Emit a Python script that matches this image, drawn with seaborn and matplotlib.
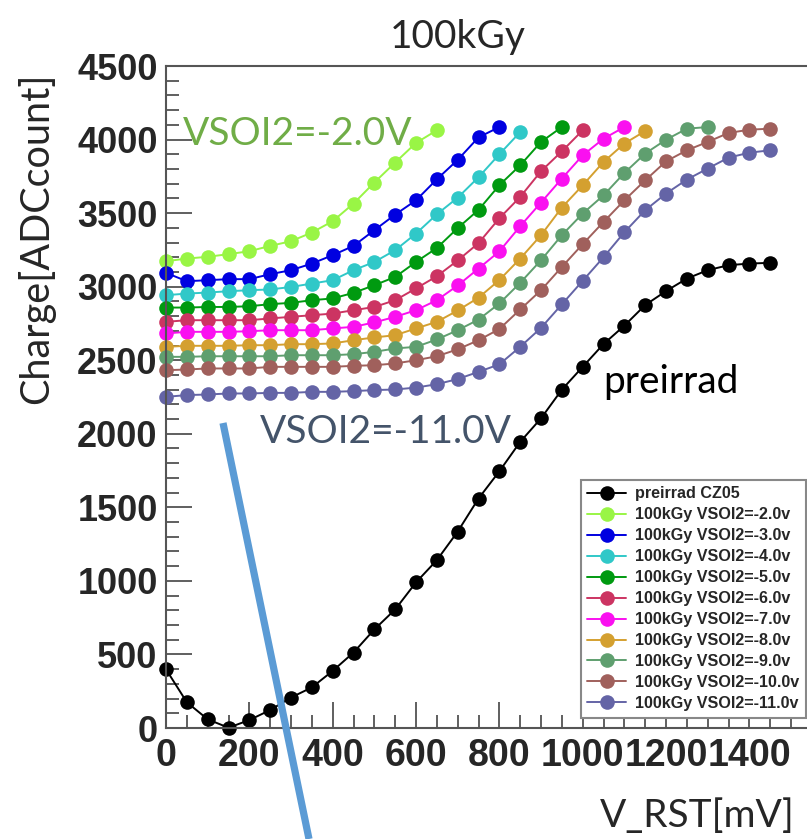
import matplotlib
matplotlib.use("Agg")
import matplotlib.pyplot as plt
from matplotlib.lines import Line2D
from matplotlib.ticker import MultipleLocator
import pandas as pd
import seaborn as sns

# Reset voltage scan points [mV]
vrst = [0, 50, 100, 150, 200, 250, 300, 350, 400, 450,
        500, 550, 600, 650, 700, 750, 800, 850, 900, 950,
        1000, 1050, 1100, 1150, 1200, 1250, 1300, 1350, 1400, 1450]

# Collected charge [ADC count] per configuration
preirrad = [399, 175, 59, 2, 54, 122, 207, 276, 388, 513,
            670, 806, 990, 1141, 1335, 1560, 1745, 1945, 2105, 2300,
            2455, 2610, 2735, 2875, 2970, 3055, 3112, 3146, 3157, 3162]
vsoi_2 = [3173, 3191, 3203, 3221, 3241, 3277, 3309, 3368, 3445, 3565,
          3708, 3844, 3977, 4063]
vsoi_3 = [3094, 3037, 3044, 3051, 3051, 3085, 3112, 3157, 3214, 3277,
          3384, 3490, 3587, 3730, 3862, 4015, 4085]
vsoi_4 = [2942, 2953, 2960, 2969, 2976, 2981, 2998, 3021, 3044, 3112,
          3168, 3248, 3361, 3492, 3605, 3744, 3900, 4051]
vsoi_5 = [2858, 2858, 2862, 2862, 2867, 2881, 2890, 2908, 2920, 2958,
          3010, 3066, 3168, 3263, 3398, 3522, 3690, 3825, 3984, 4085]
vsoi_6 = [2761, 2772, 2772, 2772, 2772, 2784, 2795, 2806, 2817, 2840,
          2862, 2908, 2988, 3071, 3178, 3296, 3465, 3610, 3785, 3920,
          4063]
vsoi_7 = [2682, 2693, 2693, 2693, 2697, 2704, 2704, 2704, 2716, 2727,
          2757, 2795, 2840, 2908, 3008, 3123, 3240, 3411, 3572, 3735,
          3893, 4006, 4085]
vsoi_8 = [2591, 2598, 2598, 2598, 2602, 2602, 2609, 2609, 2614, 2636,
          2655, 2670, 2716, 2761, 2838, 2925, 3045, 3191, 3350, 3538,
          3689, 3848, 3973, 4058]
vsoi_9 = [2523, 2523, 2527, 2527, 2527, 2527, 2534, 2534, 2534, 2541,
          2557, 2580, 2591, 2641, 2704, 2776, 2886, 3026, 3180, 3350,
          3497, 3621, 3773, 3905, 3999, 4074, 4085]
vsoi_10 = [2432, 2437, 2444, 2444, 2444, 2455, 2455, 2455, 2455, 2462,
           2466, 2478, 2500, 2527, 2574, 2636, 2712, 2845, 2976, 3134,
           3289, 3440, 3587, 3723, 3852, 3927, 3984, 4045, 4067, 4074]
vsoi_11 = [2251, 2263, 2267, 2274, 2274, 2278, 2278, 2285, 2285, 2290,
           2297, 2301, 2314, 2337, 2372, 2421, 2472, 2591, 2720, 2880,
           3040, 3200, 3370, 3520, 3633, 3728, 3803, 3877, 3911, 3927]

labels = ["preirrad CZ05",
          "100kGy VSOI2=-2.0v", "100kGy VSOI2=-3.0v", "100kGy VSOI2=-4.0v",
          "100kGy VSOI2=-5.0v", "100kGy VSOI2=-6.0v", "100kGy VSOI2=-7.0v",
          "100kGy VSOI2=-8.0v", "100kGy VSOI2=-9.0v", "100kGy VSOI2=-10.0v",
          "100kGy VSOI2=-11.0v"]
series = [preirrad, vsoi_2, vsoi_3, vsoi_4, vsoi_5, vsoi_6,
          vsoi_7, vsoi_8, vsoi_9, vsoi_10, vsoi_11]
colors = ["#000000", "#99f545", "#0000e0", "#30c8c8", "#009a10", "#cc3462",
          "#fa10f0", "#d4a030", "#5f9f6f", "#a0605c", "#6464a6"]

frames = []
for lab, vals in zip(labels, series):
    frames.append(pd.DataFrame({"V_RST": vrst[:len(vals)],
                                "Charge": vals,
                                "series": lab}))
df = pd.concat(frames, ignore_index=True)

sns.set_style("ticks")
plt.rcParams["font.family"] = ["Liberation Sans", "DejaVu Sans"]

W, H = 807, 839
fig = plt.figure(figsize=(W / 100, H / 100), dpi=100)
ax = fig.add_axes([166 / W, 1 - 728 / H, (W - 166) / W, (728 - 66) / H])

sns.lineplot(data=df, x="V_RST", y="Charge", hue="series",
             hue_order=labels, palette=colors, marker="o", markersize=10.5,
             markeredgewidth=0, linewidth=1.4, sort=False, estimator=None,
             legend=False, clip_on=False, ax=ax)

ax.set_xlim(0, (W - 166) / 0.4167)
ax.set_ylim(0, 4500)
ax.set_xlabel("")
ax.set_ylabel("")
ax.xaxis.set_major_locator(MultipleLocator(200))
ax.xaxis.set_minor_locator(MultipleLocator(50))
ax.yaxis.set_major_locator(MultipleLocator(500))
ax.yaxis.set_minor_locator(MultipleLocator(100))
ax.tick_params(which="major", direction="in", length=19, width=1.2,
               color="#444444", labelsize=26, pad=6)
ax.tick_params(which="minor", direction="in", length=9.5, width=1.2,
               color="#444444")
ax.tick_params(axis="x", labelsize=27, pad=7)
for lbl in ax.get_xticklabels() + ax.get_yticklabels():
    lbl.set_fontweight("bold")
for side in ["left", "bottom", "top"]:
    ax.spines[side].set_color("#555555")
    ax.spines[side].set_linewidth(1.5)
ax.spines["right"].set_visible(False)

handles = [Line2D([], [], color=c, marker="o", markersize=10.5,
                  markeredgewidth=0, linewidth=1.4) for c in colors]
leg = ax.legend(handles, labels, loc="upper left",
                bbox_to_anchor=(581 / W, 1 - 480 / H),
                bbox_transform=fig.transFigure, borderaxespad=0,
                prop={"family": "Liberation Sans", "weight": "bold", "size": 11.6},
                handlelength=2.4, handletextpad=0.55, labelspacing=0.37,
                borderpad=0.4, fancybox=False, framealpha=1)
leg.get_frame().set_edgecolor("#888888")
leg.get_frame().set_linewidth(1.5)

note_font = ["Lato", "DejaVu Sans"]
fig.text(458 / W, 1 - 48 / H, "100kGy", ha="center", va="baseline",
         fontsize=28, family=note_font)
fig.text(36 / W, 1 - 238 / H, "Charge[ADCcount]", ha="center", va="center",
         rotation=90, fontsize=28.5, family=note_font)
fig.text(795 / W, 1 - 827 / H, "V_RST[mV]", ha="right", va="baseline",
         fontsize=28, family=note_font)
fig.text(183 / W, 1 - 145 / H, "VSOI2=-2.0V", ha="left", va="baseline",
         fontsize=28, family=note_font, color="#70ad47")
fig.text(260 / W, 1 - 443 / H, "VSOI2=-11.0V", ha="left", va="baseline",
         fontsize=28, family=note_font, color="#44546a")
fig.text(603 / W, 1 - 393 / H, "preirrad", ha="left", va="baseline",
         fontsize=28, family=note_font, color="#000000")

# pointer drawn across the figure
fig.add_artist(Line2D([223 / W, 309 / W], [1 - 423 / H, 1 - 839 / H],
                      transform=fig.transFigure, color="#5b9bd5",
                      linewidth=5.2, solid_capstyle="butt"))

fig.savefig("out.png", dpi=100)
